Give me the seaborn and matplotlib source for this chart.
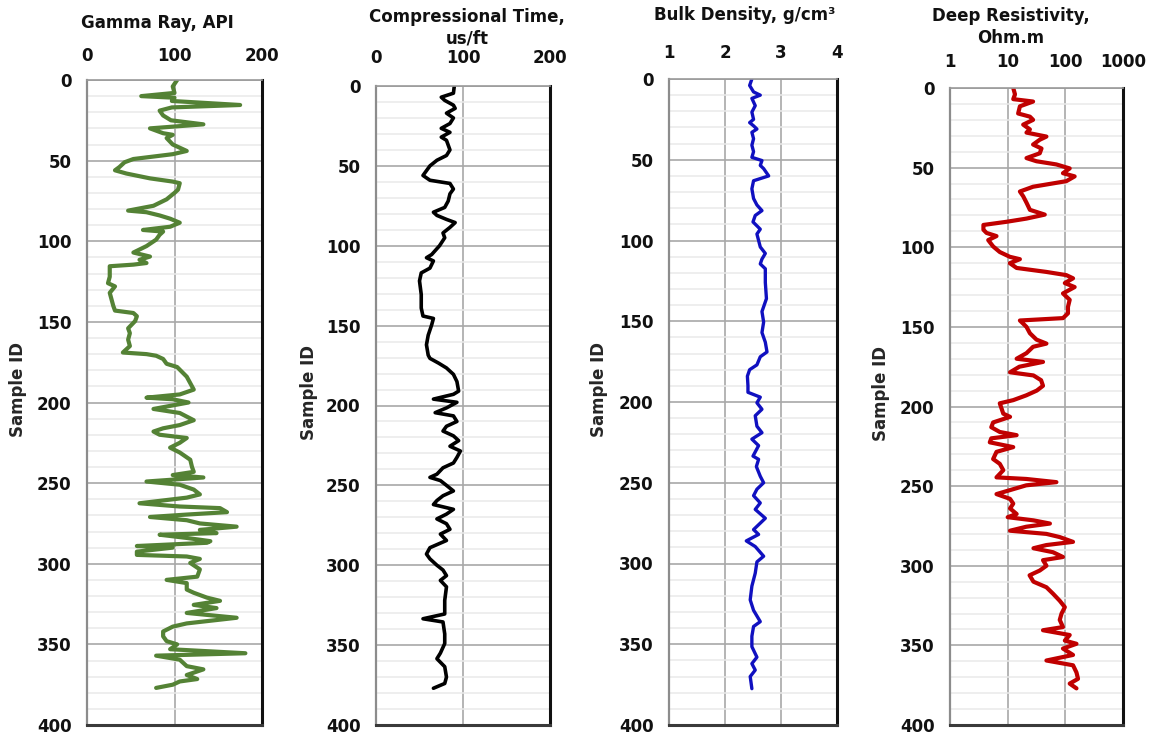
import matplotlib
matplotlib.use("Agg")
import matplotlib.pyplot as plt
from matplotlib.ticker import NullLocator
import seaborn as sns

# ---- data ----
gr_depth = [0, 4, 8, 10, 11, 13, 15.5, 17, 19, 22, 25, 27.5, 30, 33, 34, 36, 40, 44, 46, 49,
            51, 54, 56, 58, 61, 63, 64, 68, 70, 74, 78, 81, 82, 84, 86, 88.5, 91, 93, 94, 96,
            99, 103, 107, 109.5, 111.5, 113.5, 114.5, 115.5, 122, 126, 128, 132, 136, 140, 143, 144.5, 146.5, 149.5, 154, 157,
            161, 165, 169, 170, 171, 173, 176, 178, 184, 188, 192, 195, 197, 198, 200, 202.5, 204, 206.5, 211, 214,
            216, 218, 220, 222, 225, 228, 231, 235.5, 240, 243, 245, 246.5, 249, 251, 254, 257, 259, 262.5, 264.5, 265.5,
            268, 269.5, 271, 273, 275, 277, 279, 281, 282, 284, 286, 287, 289, 290, 292.5, 294.5, 295.5, 297, 299.5, 303.5,
            308, 310, 312, 316, 318, 321, 323, 325.5, 327.5, 330.5, 333.5, 337, 339, 342, 345, 348, 350, 353, 355.5, 357,
            359.5, 363.5, 365.5, 369, 371.5, 373, 375, 377]
gr_api = [103, 98, 100, 62, 100, 97, 175, 97, 83, 87, 96, 133, 72, 87, 98, 91, 98, 114, 98, 53,
          43, 37, 32, 45, 72, 98, 106, 104, 100, 91, 76, 47, 68, 83, 95, 106, 95, 64, 87, 83,
          79, 68, 53, 72, 60, 68, 53, 26, 26, 24, 32, 26, 28, 30, 32, 53, 57, 55, 47, 49,
          47, 49, 41, 68, 79, 87, 91, 103, 114, 118, 122, 106, 68, 98, 116, 91, 76, 106, 122, 106,
          87, 76, 83, 114, 106, 95, 106, 118, 120, 122, 98, 133, 68, 106, 122, 129, 114, 60, 106, 152,
          160, 114, 72, 114, 129, 171, 129, 148, 83, 114, 141, 137, 57, 98, 57, 57, 114, 129, 118, 129,
          126, 91, 114, 114, 122, 137, 152, 122, 148, 114, 171, 114, 98, 87, 87, 91, 103, 95, 181, 79,
          106, 114, 133, 114, 126, 106, 98, 79]

dt_depth = [0, 4.5, 7, 9, 12, 14, 17, 20, 23.5, 26.5, 29, 32, 34, 37, 40, 43.5, 46.5, 50, 53, 56,
            59, 61, 64.5, 67.5, 72, 76, 79, 81, 83.5, 85.5, 88.5, 92, 95, 100, 105.5, 107.5, 109.5, 114, 117, 122,
            130.5, 139, 144, 145.5, 149.5, 156, 162, 168.5, 170.5, 173.5, 176.5, 180.5, 185, 191, 193, 196, 198, 201.5, 204.5, 206.5,
            210, 213, 216, 219, 222, 225.5, 228.5, 232.5, 236, 239, 243, 245, 247, 250, 253.5, 256.5, 259.5, 262, 265, 268,
            271, 274, 277.5, 280.5, 284.5, 289, 293, 296, 300, 303, 306.5, 309.5, 313.5, 322, 330.5, 333.5, 335.5, 343, 349, 355,
            358.5, 363.5, 370, 374, 377]
dt_usft = [90, 89, 75, 79, 89, 91, 81, 89, 85, 75, 85, 75, 81, 83, 85, 81, 70, 62, 58, 54,
           62, 85, 89, 85, 83, 79, 66, 70, 81, 91, 85, 77, 79, 73, 64, 58, 66, 62, 52, 50,
           52, 52, 54, 66, 64, 60, 58, 60, 62, 72, 81, 89, 93, 95, 89, 66, 93, 81, 68, 89,
           93, 81, 77, 89, 95, 85, 97, 93, 89, 77, 70, 62, 74, 81, 89, 77, 70, 66, 89, 81,
           70, 81, 85, 74, 81, 62, 58, 62, 70, 77, 81, 74, 81, 79, 79, 54, 77, 79, 79, 74,
           70, 79, 81, 79, 66]

rhob_depth = [0, 4, 8, 10, 12, 16.5, 20.5, 25, 27, 29, 31, 33, 37, 41, 45, 48.5, 50.5, 53.5, 55.5, 60,
              63, 68, 74, 78, 81.5, 84.5, 88.5, 93, 96, 100, 104, 108, 111.5, 114.5, 117.5, 126, 136, 144, 150.5, 157,
              163, 169, 172, 177, 180, 184, 190, 194, 197, 200.5, 204.5, 208.5, 215, 219, 223, 227, 233.5, 235.5, 240, 246,
              250, 254, 258, 262.5, 266.5, 272, 276, 279, 282, 286, 289.5, 295.5, 299, 306, 314, 322.5, 329, 336, 339, 345,
              351.5, 358, 362, 366, 370, 377.5]
rhob_gcc = [2.48, 2.44, 2.51, 2.63, 2.48, 2.54, 2.48, 2.51, 2.44, 2.51, 2.57, 2.48, 2.51, 2.48, 2.51, 2.48, 2.66, 2.63, 2.69, 2.78,
            2.51, 2.48, 2.51, 2.57, 2.66, 2.54, 2.50, 2.63, 2.57, 2.60, 2.63, 2.72, 2.66, 2.63, 2.72, 2.72, 2.74, 2.66, 2.69, 2.66,
            2.72, 2.75, 2.63, 2.57, 2.44, 2.40, 2.41, 2.41, 2.63, 2.57, 2.66, 2.54, 2.57, 2.66, 2.48, 2.60, 2.50, 2.60, 2.56, 2.63,
            2.69, 2.57, 2.51, 2.63, 2.54, 2.72, 2.60, 2.51, 2.60, 2.38, 2.54, 2.69, 2.57, 2.54, 2.48, 2.45, 2.51, 2.63, 2.51, 2.48,
            2.48, 2.57, 2.48, 2.54, 2.45, 2.48]

rt_depth = [0, 4, 7, 8.5, 11.5, 16, 18, 20, 23, 26, 28, 30.5, 32.5, 35.5, 38, 41, 44, 46, 48, 50.5,
            53.5, 55.5, 58.5, 62, 65, 68, 72, 76.5, 79.5, 82, 84, 86, 89, 91, 93, 95.5, 99.5, 103, 106, 107.5,
            110, 113, 115.5, 117.5, 119.5, 122.5, 125, 129, 133, 137.5, 141.5, 144.5, 146, 150, 154, 158, 160.5, 162.5, 166.5, 170,
            172, 175, 178.5, 180.5, 183.5, 187, 190, 193, 196, 198, 204.5, 206.5, 210, 213, 216, 218, 220, 222.5, 225.5, 228.5,
            233, 236, 240, 244.5, 245.5, 247.5, 249.5, 252.5, 255, 258, 261, 264, 267.5, 269.5, 271.5, 273.5, 275.5, 278, 280, 282,
            285, 287, 289, 291.5, 294.5, 296.5, 300, 303, 306, 310, 313.5, 317.5, 322, 326, 330, 334, 338.5, 340.5, 343.5, 347,
            349, 352, 356, 359.5, 362.5, 367, 371, 374, 377]
rt_ohmm = [12.5, 13.4, 12.5, 27.6, 16.3, 15.2, 24.3, 27.6, 18.6, 24.3, 21.2, 47, 36, 27.6, 38.6, 36, 21.2, 31.6, 70, 119,
           91, 145, 104, 27.6, 16.3, 18.6, 21.2, 24.3, 44, 21.2, 9.6, 3.8, 3.8, 4.3, 6.4, 4.6, 5.6, 7.3, 10.9, 16.3,
           10.9, 14.3, 47, 104, 136, 98, 145, 91, 119, 111, 111, 91, 16.3, 21.2, 24.3, 31.6, 47, 27.6, 21.2, 14.3,
           41, 16, 11, 28, 38, 41, 32, 21, 12.5, 7.3, 8.4, 11, 5.6, 5.2, 7.3, 14.3, 5.2, 4.9, 12.5, 6.4,
           5.6, 7.3, 8.4, 6.4, 21, 70, 21, 11, 6.4, 11, 12.5, 11, 14.3, 10, 28, 54, 21, 11, 47, 80,
           136, 47, 28, 61, 91, 41, 47, 36, 24, 28, 47, 61, 80, 98, 86, 80, 91, 41, 119, 98,
           156, 91, 136, 47, 136, 156, 166, 119, 156]

titles = ["Gamma Ray, API", "Compressional Time,\nus/ft", "Bulk Density, g/cm³", "Deep Resistivity,\nOhm.m"]
x_ticks = [[0, 100, 200], [0, 100, 200], [1, 2, 3, 4], [1, 10, 100, 1000]]
x_tick_labels = [["0", "100", "200"], ["0", "100", "200"], ["1", "2", "3", "4"], ["1", "10", "100", "1000"]]
y_ticks = list(range(0, 401, 50))
y_label = "Sample ID"

sns.set_style("white")
plt.rcParams["font.family"] = ["DejaVu Sans"]
plt.rcParams["font.weight"] = "bold"
plt.rcParams["text.color"] = "#111111"
plt.rcParams["xtick.color"] = "#111111"
plt.rcParams["ytick.color"] = "#111111"

W, H = 1151, 735
fig = plt.figure(figsize=(W / 100, H / 100), dpi=100)

# panel boxes in pixels: left, right, top, bottom
boxes = [(87, 262, 80, 725), (376, 550, 86, 725), (669, 837, 79, 725), (950, 1123, 88, 725)]
title_pos = [(157, 23), (467, 28), (745, 15), (1011, 27)]
ylabel_right = [27, 318, 608, 890]  # right edge of the rotated "Sample ID" label
tick_pad = [11, 14, 12, 12.5]
curves = [
    (gr_api, gr_depth, "#548235", 3.0),
    (dt_usft, dt_depth, "black", 2.6),
    (rhob_gcc, rhob_depth, "#1010c0", 2.4),
    (rt_ohmm, rt_depth, "#c00000", 3.0),
]

for i, (l, r, t, b) in enumerate(boxes):
    ax = fig.add_axes([l / W, 1 - b / H, (r - l) / W, (b - t) / H])
    xv, yv, color, lw = curves[i]
    if i == 3:
        ax.set_xscale("log")
    sns.lineplot(x=xv, y=yv, orient="y", sort=False, estimator=None, ax=ax,
                 color=color, linewidth=lw, solid_joinstyle="round", solid_capstyle="round")
    ax.set_xlim(x_ticks[i][0], x_ticks[i][-1])
    ax.set_ylim(400, 0)
    ax.set_xticks(x_ticks[i], labels=x_tick_labels[i])
    ax.xaxis.set_minor_locator(NullLocator())
    ax.set_yticks(y_ticks)
    ax.set_yticks(range(0, 401, 10), minor=True)
    ax.xaxis.tick_top()
    ax.tick_params(axis="x", which="both", length=0, pad=tick_pad[i], labelsize=12)
    ax.tick_params(axis="y", which="both", length=0, pad=11, labelsize=12)
    ax.set_axisbelow(True)
    ax.grid(which="major", axis="both", color="#a8a8a8", linewidth=1.2)
    ax.grid(which="minor", axis="y", color="#e9e9e9", linewidth=1.1)
    ax.spines["left"].set_color("#8c8c8c")
    ax.spines["left"].set_linewidth(1.6)
    ax.spines["top"].set_color("#9a9a9a")
    ax.spines["top"].set_linewidth(1.2)
    ax.spines["bottom"].set_color("#3a3a3a")
    ax.spines["bottom"].set_linewidth(2.2)
    ax.spines["right"].set_color("#111111")
    ax.spines["right"].set_linewidth(2.2)
    ax.set_xlabel("")
    ax.set_ylabel(y_label, fontsize=12, fontweight="bold")
    ax.yaxis.set_label_coords((ylabel_right[i] - l) / (r - l), 0.52)
    tx, ty = title_pos[i]
    fig.text(tx / W, 1 - ty / H, titles[i], ha="center", va="center",
             fontsize=12, fontweight="bold", linespacing=1.25)

fig.savefig("out.png", dpi=100)
